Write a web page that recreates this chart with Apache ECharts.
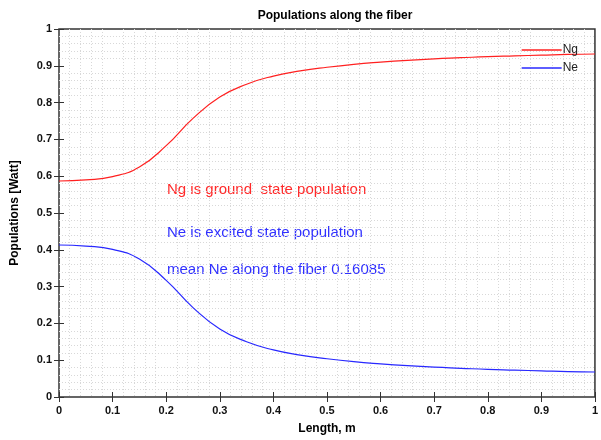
<!DOCTYPE html>
<html><head><meta charset="utf-8">
<script src="https://cdn.jsdelivr.net/npm/echarts@6/dist/echarts.min.js"></script>
<style>html,body{margin:0;padding:0;background:#fff}#c{width:601px;height:440px}</style>
</head><body><div id="c"></div>
<script>
const lengths = [0,0.05,0.1,0.15,0.2,0.25,0.3,0.35,0.4,0.45,0.5,0.55,0.6,0.65,0.7,0.75,0.8,0.85,0.9,0.95,1];
const ng = [0.587,0.590,0.599,0.625,0.683,0.757,0.815,0.850,0.872,0.886,0.896,0.904,0.910,0.915,0.919,0.922,0.925,0.927,0.929,0.931,0.932];
const ne = [0.413,0.410,0.401,0.375,0.317,0.243,0.185,0.150,0.128,0.114,0.104,0.096,0.090,0.085,0.081,0.078,0.075,0.073,0.071,0.069,0.068];
const notes = ["Ng is ground  state population","Ne is excited state population","mean Ne along the fiber 0.16085"];
const titleText = "Populations along the fiber";
const xName = "Length, m";
const yName = "Populations [Watt]";

const chart = echarts.init(document.getElementById('c'));
const lbl = {fontFamily:'Liberation Sans, Arial', fontWeight:'bold', fontSize:11, color:'#111'};
const minorLine = {show:true, lineStyle:{color:'#d8d8d8', type:[1,2], width:1}};
chart.setOption({
  animation:false,
  title:{text:titleText, left:330, textAlign:'center', top:5, textStyle:{fontFamily:'Liberation Sans, Arial', fontWeight:'bold', fontSize:12, color:'#000'}},
  grid:{left:59, right:4, top:29, bottom:42, show:true, borderColor:'#333', borderWidth:1.5, backgroundColor:'#fff'},
  legend:{orient:'vertical', right:18, top:39, itemWidth:40, itemHeight:1.5, itemGap:6, icon:'rect',
    textStyle:{fontFamily:'Liberation Sans, Arial', fontSize:12, color:'#222', padding:[0,0,0,-4]},
    data:['Ng','Ne']},
  xAxis:[{type:'value', min:0, max:1, interval:0.1, position:'bottom',
    name:xName, nameLocation:'middle', nameGap:26, nameTextStyle:{fontFamily:'Liberation Sans, Arial', fontWeight:'bold', fontSize:12, color:'#000'},
    axisLine:{show:false}, axisTick:{show:true, inside:true, length:5, lineStyle:{color:'#333'}},
    axisLabel:{...lbl, margin:8, formatter:v=>String(+v.toFixed(1))},
    splitLine:{show:false}, minorTick:{show:false, splitNumber:5}, minorSplitLine:minorLine},
   {type:'value', min:0, max:1, interval:0.1, position:'top', axisLine:{show:false},
    axisTick:{show:true, inside:true, length:5, lineStyle:{color:'#333'}}, axisLabel:{show:false}, splitLine:{show:false}}],
  yAxis:[{type:'value', min:0, max:1, interval:0.1,
    name:yName, nameLocation:'middle', nameGap:38, nameRotate:90, nameTextStyle:{fontFamily:'Liberation Sans, Arial', fontWeight:'bold', fontSize:12, color:'#000'},
    axisLine:{show:false}, axisTick:{show:true, inside:true, length:5, lineStyle:{color:'#333'}},
    axisLabel:{...lbl, margin:7, formatter:v=>String(+v.toFixed(1))},
    splitLine:{show:false}, minorTick:{show:false, splitNumber:5}, minorSplitLine:minorLine},
   {type:'value', min:0, max:1, interval:0.1, position:'right', axisLine:{show:false},
    axisTick:{show:true, inside:true, length:5, lineStyle:{color:'#333'}}, axisLabel:{show:false}, splitLine:{show:false}}],
  series:[
    {name:'Ng', type:'line', smooth:0.5, showSymbol:false, data:lengths.map((x,i)=>[x,ng[i]]), lineStyle:{color:'#ff2020', width:1.2}, itemStyle:{color:'#ff2020'}},
    {name:'Ne', type:'line', smooth:0.5, showSymbol:false, data:lengths.map((x,i)=>[x,ne[i]]), lineStyle:{color:'#2828ff', width:1.2}, itemStyle:{color:'#2828ff'}}
  ],
  graphic:[
    {type:'text', left:167, top:182, style:{text:notes[0], fill:'#ff2a2a', font:'15px "Liberation Sans", Arial'}},
    {type:'text', left:167, top:225, style:{text:notes[1], fill:'#3030ff', font:'15px "Liberation Sans", Arial'}},
    {type:'text', left:167, top:262, style:{text:notes[2], fill:'#3030ff', font:'15px "Liberation Sans", Arial'}}
  ]
});
</script></body></html>
